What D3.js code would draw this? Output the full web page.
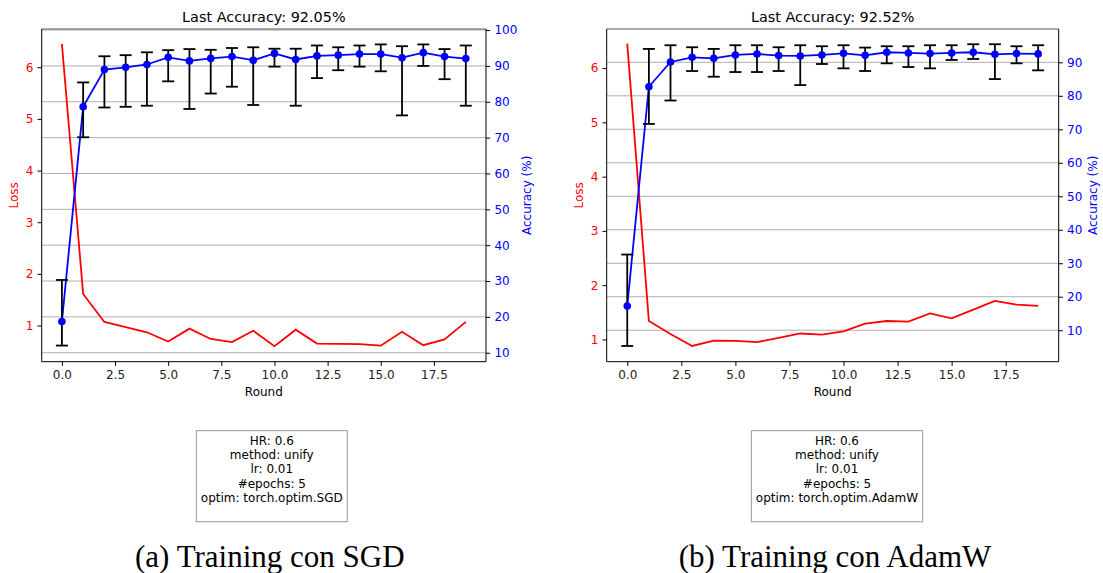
<!DOCTYPE html>
<html><head><meta charset="utf-8">
<script src="https://cdn.jsdelivr.net/npm/d3@7"></script>
<style>
body{margin:0;background:#fff;}
svg{display:block;font-family:"DejaVu Sans",sans-serif;}
</style>
</head><body>
<svg id="c" width="1103" height="573"></svg>
<script>
// ---------- DATA ----------
const rounds = [0,1,2,3,4,5,6,7,8,9,10,11,12,13,14,15,16,17,18,19];

const sgdLoss     = [6.45,1.61,1.07,0.97,0.87,0.69,0.94,0.74,0.68,0.90,0.60,0.92,0.65,0.645,0.64,0.61,0.88,0.62,0.73,1.07];
const sgdAcc      = [18.7,78.6,89.0,89.6,90.4,92.4,91.4,92.1,92.6,91.6,93.5,91.8,92.8,93.0,93.3,93.3,92.3,93.7,92.6,92.05];
const sgdAccLow   = [12.0,70.1,78.4,78.6,78.9,85.7,78.0,82.3,84.2,79.1,89.8,78.9,86.6,88.8,89.8,88.5,76.2,90.0,86.3,78.9];
const sgdAccHigh  = [30.3,85.4,92.7,93.0,93.8,94.4,94.7,94.5,95.0,95.2,94.8,94.8,95.7,95.2,95.7,96.0,95.5,96.0,94.7,95.7];

const adamLoss    = [6.45,1.34,1.10,0.88,0.98,0.975,0.95,1.03,1.11,1.09,1.15,1.29,1.34,1.33,1.48,1.39,1.55,1.71,1.64,1.62];
const adamAcc     = [17.2,82.7,90.1,91.5,91.2,92.2,92.5,92.0,91.9,92.2,92.7,92.1,93.0,92.8,92.6,92.8,93.0,92.4,92.6,92.52];
const adamAccLow  = [5.3,71.6,78.6,87.4,85.7,87.1,87.1,87.4,83.2,89.5,88.2,87.4,89.7,88.6,88.2,90.7,91.0,85.0,89.7,87.6];
const adamAccHigh = [32.6,94.0,95.1,94.5,94.0,95.1,95.1,94.5,95.1,94.8,95.1,94.4,94.8,94.8,95.1,95.1,95.4,95.4,94.8,95.1];

const xTicks       = [0,2.5,5,7.5,10,12.5,15,17.5];
const lossTicks    = [1,2,3,4,5,6];
const sgdAccTicks  = [10,20,30,40,50,60,70,80,90,100];
const adamAccTicks = [10,20,30,40,50,60,70,80,90];

const sgdTitle  = "Last Accuracy: 92.05%";
const adamTitle = "Last Accuracy: 92.52%";
const sgdInfo   = ["HR: 0.6","method: unify","lr: 0.01","#epochs: 5","optim: torch.optim.SGD"];
const adamInfo  = ["HR: 0.6","method: unify","lr: 0.01","#epochs: 5","optim: torch.optim.AdamW"];
const sgdCaption  = "(a) Training con SGD";
const adamCaption = "(b) Training con AdamW";

// ---------- DRAW ----------
const svg = d3.select("#c");
const RED = "#ff0000", BLUE = "#0000ff";
const TK = 4.2;

function panel(cfg){
  const {x0,x1,y0,y1} = cfg;
  const g = svg.append("g");
  const x = d3.scaleLinear().domain([-0.95,19.95]).range([x0,x1]);
  const yL = d3.scaleLinear().domain(cfg.lossDom).range([y1,y0]);
  const yA = d3.scaleLinear().domain(cfg.accDom).range([y1,y0]);

  // grid (accuracy axis)
  g.append("g").selectAll("line").data(cfg.accTicks).join("line")
    .attr("x1",x0).attr("x2",x1)
    .attr("y1",d=>yA(d)).attr("y2",d=>yA(d))
    .attr("stroke","#b0b0b0").attr("stroke-width",1);

  // loss line
  g.append("path").datum(rounds)
    .attr("fill","none").attr("stroke",RED).attr("stroke-width",1.8)
    .attr("d",d3.line().x(d=>x(d)).y((d,i)=>yL(cfg.loss[i])));

  // accuracy line
  g.append("path").datum(rounds)
    .attr("fill","none").attr("stroke",BLUE).attr("stroke-width",1.8)
    .attr("d",d3.line().x(d=>x(d)).y((d,i)=>yA(cfg.acc[i])));

  // error bars
  const eb = g.append("g").attr("stroke","#000").attr("stroke-width",1.8);
  rounds.forEach((r,i)=>{
    eb.append("line").attr("x1",x(r)).attr("x2",x(r))
      .attr("y1",yA(cfg.low[i])).attr("y2",yA(cfg.high[i]));
    eb.append("line").attr("x1",x(r)-6).attr("x2",x(r)+6)
      .attr("y1",yA(cfg.low[i])).attr("y2",yA(cfg.low[i]));
    eb.append("line").attr("x1",x(r)-6).attr("x2",x(r)+6)
      .attr("y1",yA(cfg.high[i])).attr("y2",yA(cfg.high[i]));
  });

  // markers
  g.append("g").selectAll("circle").data(rounds).join("circle")
    .attr("cx",d=>x(d)).attr("cy",(d,i)=>yA(cfg.acc[i])).attr("r",3.8)
    .attr("fill",BLUE);

  // axes
  const ax = g.append("g").attr("transform",`translate(0,${y1})`)
    .call(d3.axisBottom(x).tickValues(xTicks).tickFormat(d3.format(".1f")).tickSize(TK).tickPadding(TK));
  const al = g.append("g").attr("transform",`translate(${x0},0)`)
    .call(d3.axisLeft(yL).tickValues(lossTicks).tickFormat(d3.format("d")).tickSize(TK).tickPadding(TK));
  const ar = g.append("g").attr("transform",`translate(${x1},0)`)
    .call(d3.axisRight(yA).tickValues(cfg.accTicks).tickFormat(d3.format("d")).tickSize(TK).tickPadding(TK));
  [ax,al,ar].forEach(a=>{
    a.select(".domain").remove();
    a.selectAll(".tick line").attr("stroke","#000").attr("stroke-width",1);
    a.selectAll(".tick text").attr("font-size",12).attr("font-family","DejaVu Sans");
  });
  ax.selectAll(".tick text").attr("fill","#222");
  al.selectAll(".tick text").attr("fill",RED);
  ar.selectAll(".tick text").attr("fill",BLUE);

  // spines
  const sp = g.append("g").attr("fill","none").attr("stroke-width",1);
  sp.append("line").attr("x1",x0).attr("x2",x1).attr("y1",y0).attr("y2",y0).attr("stroke","#555");
  sp.append("line").attr("x1",x0).attr("x2",x1).attr("y1",y1).attr("y2",y1).attr("stroke","#000");
  sp.append("line").attr("x1",x0).attr("x2",x0).attr("y1",y0).attr("y2",y1).attr("stroke","#000");
  sp.append("line").attr("x1",x1).attr("x2",x1).attr("y1",y0).attr("y2",y1).attr("stroke","#000");

  // title and labels
  const cx = (x0+x1)/2, cy = (y0+y1)/2;
  g.append("text").attr("x",cx).attr("y",21.5).attr("text-anchor","middle")
    .attr("font-size",14.4).attr("fill","#000").text(cfg.title);
  g.append("text").attr("x",cx).attr("y",395.5).attr("text-anchor","middle")
    .attr("font-size",12).attr("fill","#000").text("Round");
  g.append("text").attr("transform",`translate(${cfg.lossLabelX},${cy}) rotate(-90)`)
    .attr("text-anchor","middle").attr("dy","0.35em")
    .attr("font-size",12).attr("fill",RED).text("Loss");
  g.append("text").attr("transform",`translate(${cfg.accLabelX},${cy}) rotate(-90)`)
    .attr("text-anchor","middle").attr("dy","0.35em")
    .attr("font-size",12).attr("fill",BLUE).text("Accuracy (%)");

  // info box
  const bg = g.append("g");
  const rect = bg.append("rect");
  const tg = bg.append("g");
  cfg.info.forEach((s,i)=>{
    tg.append("text").attr("x",cfg.boxCx).attr("y",440.7+i*14.2)
      .attr("text-anchor","middle").attr("dy","0.35em")
      .attr("font-size",12).attr("fill","#000").text(s);
  });
  let w = 0;
  tg.selectAll("text").each(function(){ w = Math.max(w,this.getComputedTextLength()); });
  rect.attr("x",cfg.boxCx - w/2 - 4.5).attr("y",430.7).attr("width",w+9).attr("height",91)
    .attr("fill","#fff").attr("stroke","#9a9a9a").attr("stroke-width",1);

  // caption
  g.append("text").attr("x",cfg.boxCx - 2).attr("y",567)
    .attr("text-anchor","middle").attr("font-family","Liberation Serif, serif")
    .attr("font-size",31).attr("fill","#000").text(cfg.caption);
}

panel({x0:41.7,x1:486,y0:29,y1:361.7,lossDom:[0.3,6.74],accDom:[7.5,100.3],
  accTicks:sgdAccTicks,loss:sgdLoss,acc:sgdAcc,low:sgdAccLow,high:sgdAccHigh,
  title:sgdTitle,info:sgdInfo,caption:sgdCaption,boxCx:271.8,lossLabelX:14,accLabelX:526.7});
panel({x0:606.7,x1:1058.7,y0:29,y1:361.7,lossDom:[0.59,6.72],accDom:[0.6,99.95],
  accTicks:adamAccTicks,loss:adamLoss,acc:adamAcc,low:adamAccLow,high:adamAccHigh,
  title:adamTitle,info:adamInfo,caption:adamCaption,boxCx:837,lossLabelX:579,accLabelX:1093});
</script>
</body></html>
